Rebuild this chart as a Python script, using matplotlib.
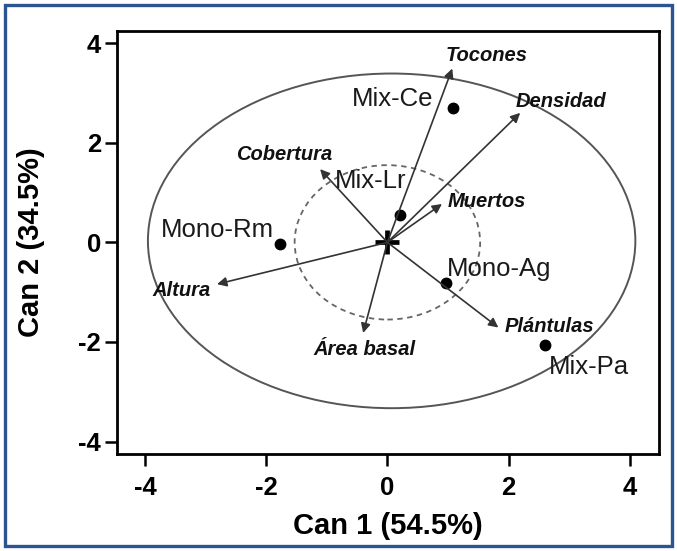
import matplotlib.pyplot as plt
from matplotlib.patches import Ellipse, Rectangle

# sites (canonical scores)
sites = ['Mix-Ce', 'Mix-Lr', 'Mono-Rm', 'Mono-Ag', 'Mix-Pa']
site_x = [1.08, 0.21, -1.77, 0.97, 2.60]
site_y = [2.69, 0.55, -0.04, -0.82, -2.06]

# structural variables (vector tips)
variables = ['Tocones', 'Densidad', 'Cobertura', 'Muertos', 'Altura', 'Área basal', 'Plántulas']
var_x = [1.07, 2.19, -1.11, 0.90, -2.81, -0.40, 1.83]
var_y = [3.49, 2.60, 1.47, 0.77, -0.84, -1.82, -1.71]

ticks = [-4, -2, 0, 2, 4]
tick_labels = ['-4', '-2', '0', '2', '4']

# label placement
site_lab = [(0.08, 2.88, 'center'), (-0.28, 1.23, 'center'), (-2.80, 0.25, 'center'),
            (1.85, -0.54, 'center'), (3.32, -2.51, 'center')]
var_lab = [(1.63, 3.75, 'center'), (2.86, 2.83, 'center'), (-1.70, 1.77, 'center'),
           (1.00, 0.83, 'left'), (-3.40, -0.96, 'center'), (-0.38, -2.15, 'center'),
           (2.68, -1.69, 'center')]

plt.rcParams['font.family'] = ['Liberation Sans', 'DejaVu Sans']

fig = plt.figure(figsize=(6.77, 5.51), dpi=100)
ax = fig.add_axes([117/677, 1 - 454/551, (659 - 117)/677, (454 - 30.7)/551])
ax.set_xlim(-4.46, 4.48)
ax.set_ylim(-4.25, 4.25)

# outer confidence ellipse and inner dashed circle
ax.add_patch(Ellipse((0.07, 0.03), 8.04, 6.72, fill=False, ec='#555555', lw=1.4))
ax.add_patch(Ellipse((0, 0), 3.06, 3.1, fill=False, ec='#666666', lw=1.3, ls=(0, (3, 2.5))))

# vectors
for x, y in zip(var_x, var_y):
    ax.annotate('', xy=(x, y), xytext=(0, 0),
                arrowprops=dict(arrowstyle='-|>', mutation_scale=14, lw=1.2,
                                color='#333333', shrinkA=0, shrinkB=0))
for name, (lx, ly, ha) in zip(variables, var_lab):
    ax.text(lx, ly, name, ha=ha, va='center', fontsize=14.5, fontweight='bold',
            fontstyle='italic', color='#111111')

ax.plot([0], [0], marker='+', ms=17, mew=3.4, color='black')
ax.plot(site_x, site_y, 'o', ms=7.5, color='black', ls='none')
for name, (lx, ly, ha) in zip(sites, site_lab):
    ax.text(lx, ly, name, ha=ha, va='center', fontsize=18.5, color='#1a1a1a')

ax.set_xticks(ticks)
ax.set_yticks(ticks)
ax.set_xticklabels(tick_labels)
ax.set_yticklabels(tick_labels)
ax.tick_params(direction='out', length=8.5, width=1.8)
ax.tick_params(axis='x', pad=7)
ax.tick_params(axis='y', pad=3)
for lab in ax.get_xticklabels() + ax.get_yticklabels():
    lab.set_fontweight('bold')
    lab.set_fontsize(18.5)
for s in ax.spines.values():
    s.set_linewidth(2)

ax.set_xlabel('Can 1 (54.5%)', fontweight='bold', fontsize=21, labelpad=9)
ax.set_ylabel('Can 2 (34.5%)', fontweight='bold', fontsize=21, labelpad=24)

# blue frame round the figure
fig.patches.append(Rectangle((5/677, 5/551), 667/677, 541/551, transform=fig.transFigure,
                             fill=False, ec='#2b5591', lw=2.4))

fig.savefig('out.png', dpi=100)
